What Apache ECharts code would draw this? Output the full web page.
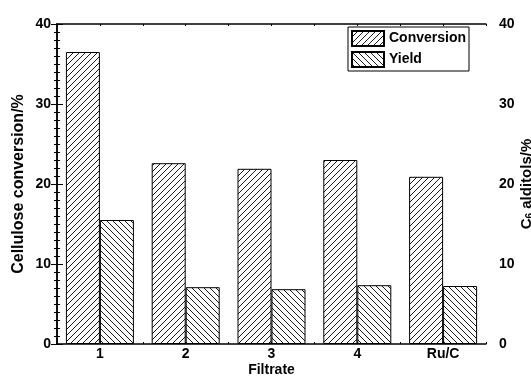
<!DOCTYPE html>
<html><head><meta charset="utf-8">
<script src="https://cdn.jsdelivr.net/npm/echarts@6/dist/echarts.min.js"></script>
<style>html,body{margin:0;padding:0;background:#fff}#c{width:531px;height:376px}</style>
</head><body><div id="c"></div>
<script>
var categories = ['1', '2', '3', '4', 'Ru/C'];
var conversion = [36.5, 22.6, 21.9, 23.0, 20.9];
var yieldVals = [15.5, 7.1, 6.85, 7.35, 7.25];
var yTicks = [0, 10, 20, 30, 40];

function hatch(forward) {
  var s = 6, c = document.createElement('canvas');
  c.width = s; c.height = s;
  var g = c.getContext('2d');
  g.fillStyle = '#fff'; g.fillRect(0, 0, s, s);
  g.strokeStyle = '#000'; g.lineWidth = 0.9;
  g.beginPath();
  if (forward) {
    g.moveTo(-1, s + 1); g.lineTo(s + 1, -1);
    g.moveTo(-1, 1); g.lineTo(1, -1);
    g.moveTo(s - 1, s + 1); g.lineTo(s + 1, s - 1);
  } else {
    g.moveTo(-1, -1); g.lineTo(s + 1, s + 1);
    g.moveTo(s - 1, -1); g.lineTo(s + 1, 1);
    g.moveTo(-1, s - 1); g.lineTo(1, s + 1);
  }
  g.stroke();
  return c;
}

var font = 'Liberation Sans, Arial, sans-serif';
var chart = echarts.init(document.getElementById('c'));
function yAxis(pos, name, gap, margin, fs) {
  return {
    type: 'value', position: pos, min: yTicks[0], max: yTicks[yTicks.length - 1], interval: 10,
    name: name, nameLocation: 'middle', nameGap: gap, nameRotate: 90, nameMoveOverlap: false,
    nameTextStyle: { fontFamily: font, fontWeight: 'bold', fontSize: fs, lineHeight: 16, color: '#000',
      rich: {
        n: { fontFamily: font, fontWeight: 'bold', fontSize: fs, lineHeight: 16, color: '#000' },
        sub: { fontFamily: font, fontWeight: 'bold', fontSize: 10, lineHeight: 16, verticalAlign: 'bottom', color: '#000' }
      } },
    axisLine: { show: true, lineStyle: { color: '#000', width: 1.5 } },
    axisTick: { show: true, inside: true, length: 6, lineStyle: { color: '#000', width: 1 } },
    minorTick: { show: true, splitNumber: 10, length: 3, lineStyle: { color: '#000', width: 1 } },
    axisLabel: { fontFamily: font, fontWeight: 'bold', fontSize: 14, color: '#000', margin: margin },
    splitLine: { show: false }
  };
}
chart.setOption({
  animation: false,
  backgroundColor: '#fff',
  grid: { left: 57, right: 45, top: 24, bottom: 32, outerBoundsMode: 'none', containLabel: false },
  legend: {
    right: 62, top: 27, orient: 'vertical',
    data: ['Conversion', 'Yield'], icon: 'rect',
    itemWidth: 32, itemHeight: 15, itemGap: 4,
    borderColor: '#000', borderWidth: 1, padding: [3, 3, 3, 3],
    textStyle: { fontFamily: font, fontWeight: 'bold', fontSize: 14, color: '#000' }
  },
  xAxis: [{
    type: 'category', data: categories, position: 'bottom',
    name: 'Filtrate', nameLocation: 'middle', nameGap: 19, nameMoveOverlap: false,
    nameTextStyle: { fontFamily: font, fontWeight: 'bold', fontSize: 14, color: '#000' },
    axisLine: { lineStyle: { color: '#000', width: 1.5 } },
    axisTick: { show: false },
    axisLabel: { fontFamily: font, fontWeight: 'bold', fontSize: 14, color: '#000', margin: 3 }
  }, {
    type: 'value', min: 0, max: 10, interval: 1, position: 'bottom',
    axisLine: { show: false }, axisLabel: { show: false }, splitLine: { show: false },
    axisTick: { show: true, inside: true, length: 2, lineStyle: { color: '#000' } }
  }, {
    type: 'value', min: 0, max: 10, interval: 1, position: 'top',
    axisLine: { show: true, lineStyle: { color: '#000', width: 1.5 } }, axisLabel: { show: false }, splitLine: { show: false },
    axisTick: { show: true, inside: true, length: 2, lineStyle: { color: '#000' } }
  }],
  yAxis: [yAxis('left', 'Cellulose conversion/%', 30, 6, 16), yAxis('right', '{n|C}{sub|6}{n| alditols/%}', 33, 13, 15)],
  series: [{
    name: 'Conversion', type: 'bar', data: conversion, barWidth: 34, barGap: '0%',
    itemStyle: { color: { image: hatch(true), repeat: 'repeat' }, borderColor: '#000', borderWidth: 1 }
  }, {
    name: 'Yield', type: 'bar', data: yieldVals, barWidth: 34, barGap: '0%',
    itemStyle: { color: { image: hatch(false), repeat: 'repeat' }, borderColor: '#000', borderWidth: 1 }
  }]
});
</script></body></html>
